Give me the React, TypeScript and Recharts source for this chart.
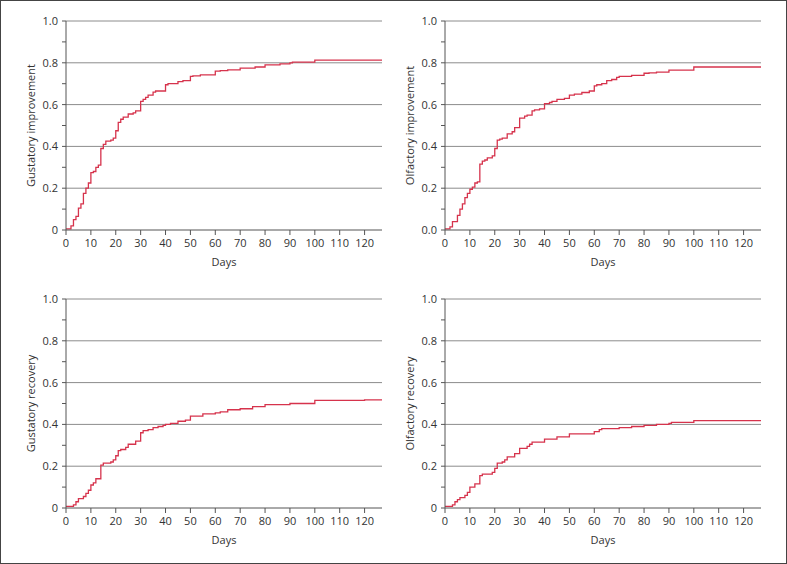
import { CartesianGrid, Line, LineChart, ReferenceLine, XAxis, YAxis } from "recharts";

// x axis
const dayTicks = [0, 10, 20, 30, 40, 50, 60, 70, 80, 90, 100, 110, 120];
const yTicks = [0, 0.1, 0.2, 0.3, 0.4, 0.5, 0.6, 0.7, 0.8, 0.9, 1.0];
const gridValues = [0.2, 0.4, 0.6, 0.8, 1.0];

// gustatory improvement
const giDays = [0, 2, 3, 4, 5, 6, 7, 8, 9, 10, 11, 12, 13, 14, 15, 16, 18, 19, 20, 21, 22, 23, 25, 27, 28, 30, 31, 32, 33, 35, 36, 40, 41, 45, 47, 50, 51, 54, 60, 62, 65, 70, 76, 80, 86, 90, 91, 100, 127];
const giValues = [0.005, 0.02, 0.05, 0.065, 0.105, 0.125, 0.175, 0.2, 0.225, 0.275, 0.28, 0.3, 0.31, 0.39, 0.41, 0.425, 0.43, 0.44, 0.475, 0.515, 0.53, 0.54, 0.555, 0.56, 0.57, 0.615, 0.625, 0.635, 0.645, 0.66, 0.665, 0.695, 0.7, 0.71, 0.715, 0.735, 0.737, 0.742, 0.76, 0.763, 0.766, 0.775, 0.78, 0.79, 0.795, 0.8, 0.803, 0.813, 0.813];

// olfactory improvement
const oiDays = [0, 2, 3, 5, 6, 7, 8, 9, 10, 11, 12, 13, 14, 15, 16, 17, 19, 20, 21, 22, 23, 25, 27, 28, 30, 32, 33, 35, 36, 38, 40, 42, 43, 45, 48, 50, 52, 55, 58, 60, 61, 63, 65, 67, 69, 70, 75, 80, 82, 85, 90, 100, 127];
const oiValues = [0.005, 0.015, 0.04, 0.07, 0.1, 0.125, 0.155, 0.175, 0.195, 0.205, 0.225, 0.23, 0.315, 0.33, 0.335, 0.345, 0.355, 0.39, 0.43, 0.435, 0.44, 0.46, 0.47, 0.49, 0.535, 0.545, 0.55, 0.57, 0.575, 0.58, 0.605, 0.61, 0.615, 0.625, 0.63, 0.645, 0.65, 0.658, 0.665, 0.69, 0.695, 0.7, 0.715, 0.72, 0.73, 0.735, 0.74, 0.75, 0.752, 0.755, 0.765, 0.78, 0.783];

// gustatory recovery
const grDays = [0, 3, 4, 5, 7, 8, 9, 10, 11, 12, 14, 15, 18, 19, 20, 21, 22, 24, 25, 28, 30, 31, 33, 35, 37, 39, 40, 42, 45, 48, 50, 55, 60, 62, 65, 70, 75, 80, 90, 100, 120, 127];
const grValues = [0.008, 0.015, 0.03, 0.045, 0.055, 0.07, 0.085, 0.11, 0.12, 0.14, 0.205, 0.215, 0.22, 0.23, 0.25, 0.275, 0.28, 0.29, 0.305, 0.32, 0.36, 0.37, 0.375, 0.385, 0.39, 0.395, 0.4, 0.405, 0.415, 0.42, 0.44, 0.45, 0.455, 0.46, 0.47, 0.475, 0.485, 0.495, 0.5, 0.515, 0.517, 0.517];

// olfactory recovery
const orDays = [0, 3, 4, 5, 6, 8, 9, 10, 12, 14, 15, 19, 20, 21, 23, 24, 25, 28, 30, 33, 34, 35, 40, 45, 50, 60, 62, 63, 70, 75, 80, 85, 90, 91, 100, 127];
const orValues = [0.008, 0.015, 0.03, 0.04, 0.05, 0.06, 0.075, 0.1, 0.115, 0.155, 0.162, 0.17, 0.19, 0.215, 0.22, 0.23, 0.245, 0.26, 0.285, 0.295, 0.305, 0.315, 0.33, 0.34, 0.355, 0.365, 0.375, 0.38, 0.385, 0.39, 0.395, 0.4, 0.405, 0.41, 0.418, 0.418];

const labelsZero = ["0", "0.2", "0.4", "0.6", "0.8", "1.0"];
const labelsZeroDec = ["0.0", "0.2", "0.4", "0.6", "0.8", "1.0"];

const TEXT = "#333";
const AXIS = "#555";
const GRID = "#8c8c8c";
const RED = "#d6334c";

type PanelProps = {
  left: number;
  top: number;
  title: string;
  days: number[];
  values: number[];
  yLabels: string[];
};

function Panel({ left, top, title, days, values, yLabels }: PanelProps) {
  const data = days.map((d, i) => ({ day: d, value: values[i] }));
  return (
    <div style={{ position: "absolute", left, top }}>
      <LineChart width={393} height={282} data={data} margin={{ top: 21, right: 11, left: 0, bottom: 0 }}>
        <CartesianGrid horizontal={false} vertical={false} />
        {gridValues.map((g) => (
          <ReferenceLine key={g} y={g} stroke={GRID} strokeWidth={1} />
        ))}
        <XAxis
          dataKey="day"
          type="number"
          domain={[0, 127]}
          ticks={dayTicks}
          allowDataOverflow
          height={52}
          stroke={AXIS}
          tickSize={5}
          tickMargin={4}
          tick={{ fill: TEXT, fontSize: 11 }}
          label={{ value: "Days", position: "insideBottom", offset: 16, fill: TEXT, fontSize: 11 }}
        />
        <YAxis
          type="number"
          domain={[0, 1]}
          ticks={yTicks}
          width={66}
          stroke={AXIS}
          tickSize={4}
          tickMargin={4}
          tick={{ fill: TEXT, fontSize: 11 }}
          tickFormatter={(v: number, i: number) => (i % 2 === 0 ? yLabels[i / 2] : "")}
          label={{ value: title, angle: -90, position: "center", dx: -2, fill: TEXT, fontSize: 11 }}
        />
        <Line
          type="stepAfter"
          dataKey="value"
          stroke={RED}
          strokeWidth={1.3}
          dot={false}
          activeDot={false}
          isAnimationActive={false}
        />
      </LineChart>
    </div>
  );
}

export default function App() {
  return (
    <div
      style={{
        position: "absolute",
        left: 0,
        top: 0,
        width: 787,
        height: 564,
        boxSizing: "border-box",
        border: "1px solid #444",
        background: "#fff",
        fontFamily: "'Open Sans', sans-serif",
      }}
    >
      <Panel left={-1} top={-1} title="Gustatory improvement" days={giDays} values={giValues} yLabels={labelsZero} />
      <Panel left={378} top={-1} title="Olfactory improvement" days={oiDays} values={oiValues} yLabels={labelsZeroDec} />
      <Panel left={-1} top={277} title="Gustatory recovery" days={grDays} values={grValues} yLabels={labelsZero} />
      <Panel left={378} top={277} title="Olfactory recovery" days={orDays} values={orValues} yLabels={labelsZero} />
    </div>
  );
}
